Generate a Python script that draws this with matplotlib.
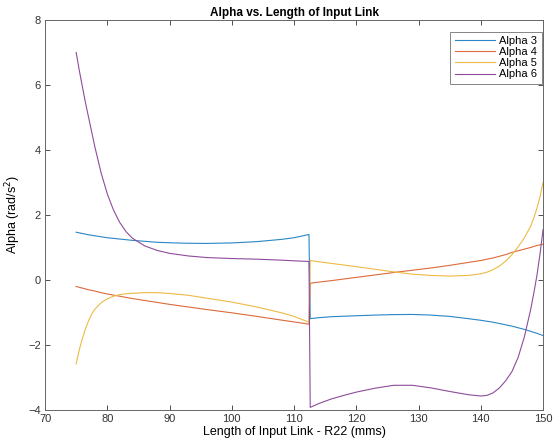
import matplotlib
matplotlib.use("Agg")
import matplotlib.pyplot as plt

plt.rcParams['font.family'] = ['Liberation Sans', 'DejaVu Sans']

x = [75, 75.5, 76, 76.5, 77, 77.5, 78, 79, 80, 81, 82, 83, 84, 86, 88, 90, 93, 96,
     100, 104, 108, 110, 112.4,
     112.6, 114, 116, 118, 120, 123, 126, 129, 132, 135, 138, 140, 141, 142, 143,
     144, 145, 146, 147, 148, 148.5, 149, 149.5, 150]

alpha3 = [1.47, 1.45, 1.43, 1.41, 1.39, 1.375, 1.36, 1.33, 1.30, 1.28, 1.26, 1.24,
          1.22, 1.19, 1.16, 1.145, 1.13, 1.125, 1.14, 1.18, 1.25, 1.30, 1.40,
          -1.19, -1.16, -1.13, -1.115, -1.10, -1.08, -1.065, -1.06, -1.08, -1.12,
          -1.19, -1.24, -1.27, -1.30, -1.34, -1.38, -1.42, -1.47, -1.52, -1.58,
          -1.61, -1.64, -1.675, -1.71]
alpha4 = [-0.20, -0.225, -0.25, -0.275, -0.30, -0.32, -0.34, -0.39, -0.43, -0.465,
          -0.50, -0.535, -0.57, -0.63, -0.69, -0.75, -0.83, -0.91, -1.01, -1.12,
          -1.235, -1.29, -1.36,
          -0.10, -0.065, -0.02, 0.03, 0.08, 0.155, 0.23, 0.30, 0.37, 0.45, 0.54,
          0.60, 0.64, 0.68, 0.73, 0.78, 0.85, 0.90, 0.95, 1.00, 1.03, 1.06, 1.08, 1.10]
alpha5 = [-2.58, -2.15, -1.80, -1.50, -1.25, -1.05, -0.90, -0.70, -0.58, -0.50,
          -0.45, -0.425, -0.41, -0.39, -0.39, -0.415, -0.47, -0.56, -0.68, -0.83,
          -1.01, -1.12, -1.30,
          0.60, 0.56, 0.51, 0.46, 0.41, 0.33, 0.25, 0.18, 0.14, 0.12, 0.14, 0.19,
          0.24, 0.32, 0.43, 0.58, 0.78, 1.02, 1.30, 1.65, 1.90, 2.20, 2.55, 3.00]
alpha6 = [7.00, 6.45, 5.95, 5.45, 5.00, 4.55, 4.10, 3.30, 2.65, 2.15, 1.77, 1.49,
          1.29, 1.05, 0.91, 0.82, 0.74, 0.69, 0.66, 0.64, 0.61, 0.59, 0.57,
          -3.92, -3.80, -3.66, -3.55, -3.45, -3.33, -3.24, -3.24, -3.32, -3.43,
          -3.53, -3.57, -3.55, -3.47, -3.32, -3.10, -2.82, -2.38, -1.75, -0.92,
          -0.42, 0.12, 0.78, 1.55]

labels = ['Alpha 3', 'Alpha 4', 'Alpha 5', 'Alpha 6']
colors = ['#2A86C6', '#DB6A3C', '#EDBA45', '#8E4C9C']
series = [alpha3, alpha4, alpha5, alpha6]
xticks = [70, 80, 90, 100, 110, 120, 130, 140, 150]
yticks = [-4, -2, 0, 2, 4, 6, 8]

fig = plt.figure(figsize=(5.56, 4.44), dpi=100)
ax = fig.add_axes([0.081, 0.0766, 0.8957, 0.8784])
for s, lab, c in zip(series, labels, colors):
    ax.plot(x, s, color=c, lw=0.8, label=lab)

ax.set_xlim(70, 150)
ax.set_ylim(-4, 8)
ax.set_xticks(xticks)
ax.set_yticks(yticks)
ax.tick_params(direction='in', top=True, right=True, labelsize=8, colors='#333333',
               length=3.5, width=0.6, pad=3)
for sp in ax.spines.values():
    sp.set_color('#666666')
    sp.set_linewidth(0.7)
ax.set_title('Alpha vs. Length of Input Link', fontsize=8.5, fontweight='bold', pad=3)
ax.set_xlabel('Length of Input Link - R22 (mms)', fontsize=9, labelpad=1)
ax.set_ylabel('Alpha (rad/s$^2$)', fontsize=9, labelpad=4)
leg = ax.legend(loc='upper right', bbox_to_anchor=(0.997, 0.970), borderaxespad=0,
                fontsize=8, frameon=True, fancybox=False, handlelength=3.6,
                labelspacing=0.1, borderpad=0.4, handletextpad=0.4)
leg.get_frame().set_edgecolor('#666666')
leg.get_frame().set_linewidth(0.7)

fig.savefig('out.png', dpi=100)
